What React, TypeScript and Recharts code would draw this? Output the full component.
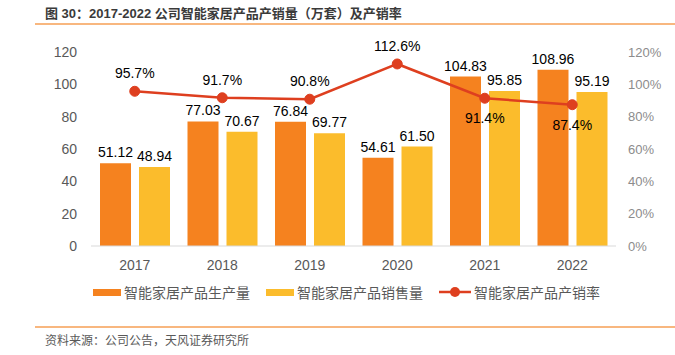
import { ComposedChart, Bar, Line, XAxis, YAxis, LabelList, Legend } from 'recharts'

const years = ['2017', '2018', '2019', '2020', '2021', '2022']
const production = [51.12, 77.03, 76.84, 54.61, 104.83, 108.96]
const sales = [48.94, 70.67, 69.77, 61.5, 95.85, 95.19]
const ratio = [95.7, 91.7, 90.8, 112.6, 91.4, 87.4]
const leftTicks = [0, 20, 40, 60, 80, 100, 120]
const rightTicks = [0, 20, 40, 60, 80, 100, 120]

const COLORS = { prod: '#F5821F', sales: '#FBBC2C', ratio: '#DE3F1F' }
const FONT = 'Arial, "Liberation Sans", "Noto Sans CJK SC", sans-serif'

const data = years.map((year, i) => ({ year, production: production[i], sales: sales[i], ratio: ratio[i] }))

function RatioLabel(props: any) {
  const { x, y, value, index } = props
  const below = index >= 4
  return (
    <text x={x} y={below ? y + 20 : y - 18} textAnchor="middle" dominantBaseline="central" fontSize={14} fill="#000" fontFamily={FONT}>
      {value.toFixed(1)}%
    </text>
  )
}

function LegendBox() {
  const item = (color: string, label: string, line?: boolean) => (
    <div style={{ display: 'flex', alignItems: 'center', marginRight: 16 }}>
      {line ? (
        <svg width={32} height={12} style={{ marginRight: 3 }}>
          <line x1={0} y1={6} x2={32} y2={6} stroke={color} strokeWidth={2.5} />
          <circle cx={16} cy={6} r={5} fill={color} />
        </svg>
      ) : (
        <div style={{ width: 28, height: 7, background: color, marginRight: 3 }} />
      )}
      <span style={{ fontSize: 14, color: '#595959' }}>{label}</span>
    </div>
  )
  return (
    <div style={{ display: 'flex', justifyContent: 'flex-start', paddingLeft: 93, paddingTop: 6, fontFamily: FONT }}>
      {item(COLORS.prod, '智能家居产品生产量')}
      {item(COLORS.sales, '智能家居产品销售量')}
      {item(COLORS.ratio, '智能家居产品产销率', true)}
    </div>
  )
}

export default function App() {
  return (
    <div style={{ position: 'absolute', left: 0, top: 0, width: 675, height: 355, background: '#fff', fontFamily: FONT }}>
      <div style={{ position: 'absolute', left: 45, top: 3, fontSize: 13, fontWeight: 'bold', color: '#3a3a3a', whiteSpace: 'nowrap' }}>
        图 30：2017-2022 公司智能家居产品产销量（万套）及产销率
      </div>
      <div style={{ position: 'absolute', left: 35, top: 23, width: 640, height: 2, background: '#F8B77F' }} />
      <div style={{ position: 'absolute', left: 0, top: 0 }}>
        <ComposedChart width={675} height={310} data={data} margin={{ top: 52, right: 0, bottom: 4, left: 0 }} barSize={31} barGap={8}>
          <XAxis dataKey="year" tickLine={false} axisLine={{ stroke: '#d9d9d9' }} tick={{ fill: '#595959', fontSize: 14 }} tickMargin={8} height={30} />
          <YAxis yAxisId="left" domain={[0, 120]} ticks={leftTicks} width={91} tickLine={false} axisLine={false} tick={{ fill: '#595959', fontSize: 14 }} tickMargin={8} />
          <YAxis yAxisId="right" orientation="right" domain={[0, 120]} ticks={rightTicks} width={59} tickLine={false} axisLine={false} tick={{ fill: '#8c8c8c', fontSize: 13 }} tickMargin={6} tickFormatter={(v) => `${v}%`} />
          <Legend content={() => <LegendBox />} verticalAlign="bottom" height={30} />
          <Bar yAxisId="left" dataKey="production" name="智能家居产品生产量" fill={COLORS.prod} isAnimationActive={false}>
            <LabelList dataKey="production" position="top" offset={6} fill="#000" fontSize={14} formatter={(v: any) => Number(v).toFixed(2)} />
          </Bar>
          <Bar yAxisId="left" dataKey="sales" name="智能家居产品销售量" fill={COLORS.sales} isAnimationActive={false}>
            <LabelList dataKey="sales" position="top" offset={6} fill="#000" fontSize={14} formatter={(v: any) => Number(v).toFixed(2)} />
          </Bar>
          <Line yAxisId="right" dataKey="ratio" name="智能家居产品产销率" stroke={COLORS.ratio} strokeWidth={2.5} dot={{ r: 5, fill: COLORS.ratio, stroke: COLORS.ratio, strokeWidth: 1 }} isAnimationActive={false}>
            <LabelList dataKey="ratio" content={RatioLabel} />
          </Line>
        </ComposedChart>
      </div>
      <div style={{ position: 'absolute', left: 35, top: 326, width: 640, height: 1.5, background: '#F8B77F' }} />
      <div style={{ position: 'absolute', left: 45, top: 331, fontSize: 12, color: '#595959', whiteSpace: 'nowrap' }}>
        资料来源：公司公告，天风证券研究所
      </div>
    </div>
  )
}
